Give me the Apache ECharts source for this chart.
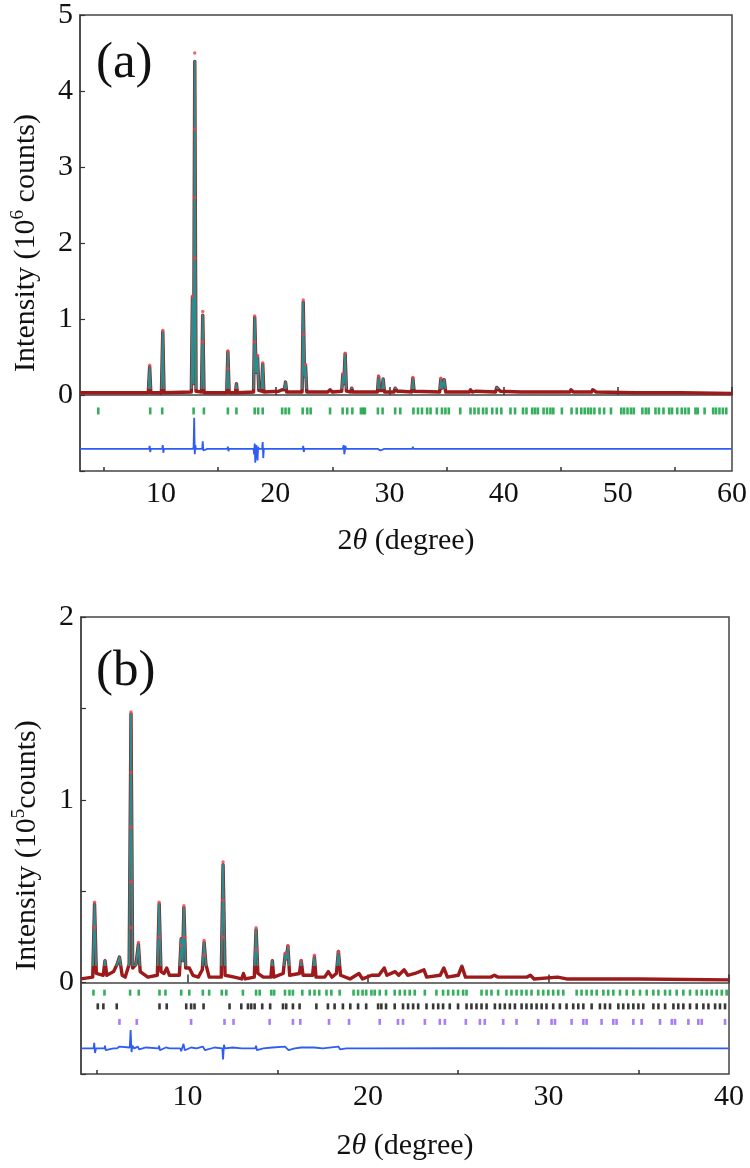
<!DOCTYPE html>
<html>
<head>
<meta charset="utf-8">
<script src="https://cdn.jsdelivr.net/npm/echarts@6/dist/echarts.min.js"></script>
<style>
html,body{margin:0;padding:0;background:#fff;}
#chart{width:750px;height:1168px;}
</style>
</head>
<body>
<div id="chart"></div>
<script>
// ---------- Panel (a) data ----------
const xTicksA = [10, 20, 30, 40, 50, 60];
const xMinorA = [5, 15, 25, 35, 45, 55];
const yTicksA = [0, 1, 2, 3, 4, 5];
// observed / calculated profile (2theta, 10^6 counts)
const profileA = [[2.9,0.03],[8.88,0.03],[9.0,0.37],[9.1,0.03],[10.03,0.03],[10.15,0.83],[10.26,0.03],[12.65,0.04],[12.75,1.29],[12.85,0.15],[12.95,4.39],[13.06,0.05],[13.54,0.04],[13.65,1.05],[13.76,0.03],[15.75,0.03],[15.85,0.57],[15.96,0.03],[16.52,0.03],[16.6,0.15],[16.68,0.03],[18.1,0.04],[18.2,1.02],[18.32,0.3],[18.45,0.5],[18.56,0.06],[18.8,0.05],[18.9,0.41],[19.0,0.04],[20.3,0.05],[20.6,0.07],[20.8,0.07],[20.9,0.17],[21.0,0.04],[22.35,0.04],[22.45,1.22],[22.56,0.25],[22.65,0.39],[22.76,0.04],[24.6,0.04],[24.8,0.07],[25.0,0.04],[25.82,0.05],[25.92,0.27],[26.0,0.15],[26.12,0.54],[26.23,0.05],[26.6,0.04],[26.7,0.09],[26.8,0.04],[27.6,0.04],[27.7,0.06],[27.85,0.04],[28.95,0.04],[29.05,0.24],[29.15,0.06],[29.35,0.06],[29.45,0.21],[29.56,0.04],[30.4,0.04],[30.5,0.09],[30.7,0.05],[31.0,0.05],[31.95,0.04],[32.05,0.22],[32.16,0.05],[34.4,0.04],[34.5,0.21],[34.62,0.09],[34.8,0.2],[34.92,0.04],[37.0,0.04],[37.1,0.07],[37.25,0.04],[37.6,0.05],[39.3,0.04],[39.4,0.1],[39.7,0.05],[41.5,0.04],[41.6,0.06],[41.8,0.04],[42.0,0.04],[42.1,0.06],[42.3,0.04],[43.95,0.04],[44.05,0.06],[44.2,0.04],[45.8,0.04],[45.9,0.07],[46.1,0.04],[47.7,0.04],[47.8,0.07],[48.1,0.04],[51.5,0.03],[51.6,0.05],[51.75,0.03],[55.3,0.03],[55.4,0.04],[55.5,0.03],[60,0.02]];
// observed points visible on peaks
const obsDotsA = [[9.0,0.39],[10.15,0.85],[12.75,1.3],[12.95,4.5],[12.95,3.5],[12.95,2.6],[12.95,1.8],[13.65,1.1],[13.65,0.7],[15.85,0.58],[15.85,0.35],[18.2,1.04],[18.2,0.7],[18.45,0.52],[18.9,0.42],[22.45,1.25],[22.45,0.8],[22.65,0.4],[26.12,0.55],[25.92,0.28],[29.05,0.25],[32.05,0.23],[34.5,0.22]];
// Bragg reflection positions
const braggA = [4.5,9.05,10.1,12.85,13.75,15.85,16.6,18.2,18.5,18.9,20.6,20.9,21.2,22.4,22.8,23.1,24.8,25.9,26.3,26.75,27.5,27.7,27.85,28.99,29.4,30.5,30.95,32.1,32.5,32.85,33.3,33.6,34.15,34.6,34.9,35.2,36.2,37.1,37.45,37.8,38.2,38.5,39.0,39.4,39.8,40.6,41.0,41.7,42.0,42.5,42.75,43.0,43.5,43.8,44.1,44.35,45.1,45.95,46.4,46.8,47.1,47.4,47.65,47.95,48.4,48.8,49.4,50.3,50.55,50.85,51.15,51.4,52.15,52.45,52.7,53.3,53.6,54.0,54.5,54.75,55.2,55.6,55.9,56.2,56.8,57.0,57.6,58.35,58.6,58.9,59.2,59.5];
// difference curve
const diffA = [[2.9,-0.71],[8.95,-0.71],[9.0,-0.67],[9.05,-0.75],[9.1,-0.71],[9.4,-0.71],[10.1,-0.71],[10.15,-0.66],[10.2,-0.76],[10.25,-0.71],[10.55,-0.71],[12.8,-0.71],[12.85,-0.68],[12.9,-0.3],[12.95,-0.78],[13.0,-0.66],[13.05,-0.71],[13.35,-0.71],[13.6,-0.71],[13.65,-0.61],[13.7,-0.73],[13.75,-0.71],[14.05,-0.71],[15.8,-0.71],[15.85,-0.68],[15.9,-0.74],[15.95,-0.71],[16.25,-0.71],[18.1,-0.71],[18.15,-0.78],[18.2,-0.64],[18.25,-0.89],[18.35,-0.66],[18.45,-0.86],[18.5,-0.68],[18.55,-0.71],[18.85,-0.71],[18.9,-0.62],[18.95,-0.83],[19.0,-0.71],[19.3,-0.71],[20.9,-0.71],[20.95,-0.69],[21.0,-0.71],[21.3,-0.71],[22.4,-0.71],[22.45,-0.67],[22.5,-0.75],[22.55,-0.71],[22.85,-0.71],[25.9,-0.71],[26.0,-0.66],[26.05,-0.78],[26.15,-0.67],[26.2,-0.71],[26.5,-0.71],[29.0,-0.71],[29.1,-0.69],[29.2,-0.73],[29.25,-0.71],[29.55,-0.71],[32.0,-0.71],[32.05,-0.68],[32.1,-0.71],[32.4,-0.71],[34.5,-0.71],[34.55,-0.69],[34.6,-0.71],[34.9,-0.71],[39.4,-0.71],[39.45,-0.69],[39.5,-0.71],[39.8,-0.71],[60,-0.71]];

// ---------- Panel (b) data ----------
const xTicksB = [10, 20, 30, 40];
const xMinorB = [5, 15, 25, 35];
const yTicksB = [0, 1, 2];
const profileB = [[4.1,0.02],[4.75,0.03],[4.85,0.43],[4.95,0.05],[5.33,0.04],[5.43,0.12],[5.53,0.04],[5.9,0.06],[6.1,0.1],[6.23,0.14],[6.38,0.04],[6.55,0.03],[6.77,0.1],[6.87,1.47],[6.96,0.08],[7.15,0.1],[7.28,0.21],[7.38,0.06],[7.8,0.03],[8.33,0.04],[8.43,0.43],[8.53,0.06],[8.7,0.05],[8.85,0.08],[9.0,0.04],[9.55,0.04],[9.65,0.24],[9.73,0.12],[9.8,0.41],[9.9,0.08],[10.1,0.08],[10.3,0.04],[10.6,0.03],[10.82,0.07],[10.92,0.22],[11.02,0.1],[11.2,0.03],[11.87,0.03],[11.97,0.645],[12.08,0.04],[12.6,0.03],[13.0,0.02],[13.1,0.05],[13.2,0.02],[13.7,0.03],[13.8,0.29],[13.9,0.05],[14.2,0.03],[14.62,0.03],[14.7,0.12],[14.78,0.03],[15.3,0.05],[15.42,0.16],[15.48,0.13],[15.56,0.2],[15.66,0.04],[16.2,0.05],[16.3,0.12],[16.4,0.04],[16.93,0.04],[17.03,0.14],[17.12,0.03],[17.6,0.03],[17.8,0.06],[18.0,0.03],[18.25,0.05],[18.36,0.17],[18.48,0.04],[19.0,0.02],[19.5,0.05],[19.7,0.02],[20.2,0.04],[20.6,0.04],[20.9,0.08],[21.05,0.04],[21.5,0.06],[21.7,0.04],[22.0,0.07],[22.2,0.04],[22.6,0.05],[23.1,0.07],[23.25,0.03],[24.0,0.04],[24.2,0.08],[24.4,0.03],[25.0,0.04],[25.2,0.09],[25.4,0.03],[26.8,0.03],[27.0,0.04],[27.2,0.03],[28.8,0.03],[29.0,0.04],[29.2,0.02],[30.5,0.03],[31.0,0.02],[35.0,0.02],[40,0.015]];
const obsDotsB = [[4.85,0.44],[4.85,0.3],[6.87,1.48],[6.87,1.15],[6.87,0.85],[6.87,0.55],[6.87,0.3],[7.28,0.22],[8.43,0.44],[8.43,0.25],[9.8,0.42],[9.8,0.25],[9.65,0.2],[10.92,0.23],[10.92,0.15],[11.97,0.66],[11.97,0.45],[11.97,0.25],[13.8,0.3],[13.8,0.18],[15.56,0.2],[15.42,0.16],[16.3,0.12],[17.03,0.15],[18.36,0.17]];
const braggB1 = [4.79,5.4,6.82,7.3,8.45,8.78,9.65,10.1,10.85,11.2,11.9,12.15,13.07,13.8,14.0,14.64,14.8,15.4,15.65,15.84,16.36,16.77,17.04,17.3,17.7,17.97,18.43,19.2,19.45,19.7,19.9,20.19,20.37,20.65,21.0,21.48,21.76,22.04,22.31,22.59,23.15,23.79,24.16,24.44,24.72,24.99,25.27,25.46,26.29,26.57,26.84,27.21,27.67,27.95,28.23,28.51,28.78,29.06,29.43,29.71,29.99,30.26,30.54,30.82,31.56,31.83,32.11,32.39,32.67,33.04,33.31,33.59,33.96,34.33,34.7,35.07,35.44,35.81,36.09,36.46,36.73,37.1,37.47,37.84,38.21,38.49,38.77,39.04,39.32,39.6,39.87];
const braggB2 = [5.03,5.34,6.08,8.45,8.85,9.93,10.2,10.39,10.89,12.33,12.98,13.35,13.53,13.72,14.14,14.58,15.29,15.47,15.84,16.21,17.14,17.78,18.15,18.61,19.02,19.45,19.9,20.56,20.74,21.0,21.48,21.94,22.22,22.5,22.78,23.24,23.61,23.89,24.16,24.53,24.99,25.46,25.73,26.01,26.29,26.57,27.03,27.31,27.58,27.86,28.14,28.51,28.78,29.06,29.34,29.62,29.89,30.26,30.63,31.0,31.37,31.65,31.93,32.39,32.85,33.13,33.41,33.87,34.14,34.42,34.7,34.98,35.25,35.81,36.09,36.46,36.92,37.19,37.47,37.84,38.21,38.58,38.86,39.23,39.5,39.78];
const braggB3 = [6.23,7.19,10.2,12.05,12.55,14.55,15.84,16.25,17.84,18.95,20.65,21.66,21.94,23.15,23.98,24.26,25.42,26.2,26.47,27.49,28.23,29.43,30.17,30.36,31.28,31.93,32.11,32.94,33.59,33.77,34.7,35.16,36.18,36.83,37.01,37.75,38.3,38.49,39.78];
const diffB = [[4.1,-0.36],[4.8,-0.36],[4.83,-0.33],[4.88,-0.385],[4.93,-0.36],[5.4,-0.36],[5.43,-0.345],[5.47,-0.37],[5.5,-0.36],[5.9,-0.36],[6.0,-0.35],[6.1,-0.36],[6.23,-0.35],[6.3,-0.36],[6.8,-0.355],[6.85,-0.26],[6.9,-0.38],[6.95,-0.345],[7.05,-0.36],[7.25,-0.35],[7.32,-0.365],[7.4,-0.36],[7.7,-0.355],[7.8,-0.36],[8.4,-0.36],[8.43,-0.345],[8.47,-0.37],[8.5,-0.36],[8.8,-0.355],[9.0,-0.36],[9.6,-0.36],[9.65,-0.375],[9.78,-0.335],[9.85,-0.37],[9.9,-0.36],[10.2,-0.355],[10.5,-0.36],[10.85,-0.35],[10.9,-0.34],[10.97,-0.37],[11.05,-0.36],[11.5,-0.355],[11.93,-0.36],[11.97,-0.42],[12.02,-0.34],[12.08,-0.36],[12.5,-0.355],[13.0,-0.36],[13.75,-0.36],[13.8,-0.345],[13.85,-0.37],[13.9,-0.36],[14.2,-0.36],[14.7,-0.355],[15.4,-0.35],[15.5,-0.345],[15.6,-0.37],[15.65,-0.36],[15.95,-0.36],[16.3,-0.355],[17.0,-0.355],[17.5,-0.36],[18.36,-0.35],[18.45,-0.365],[18.5,-0.36],[18.8,-0.36],[20,-0.36],[25,-0.358],[40,-0.36]];

// ---------- styling ----------
const FONT = "'Liberation Serif','Times New Roman',serif";
const AXIS_COLOR = '#444';
const RED_BAND = '#9c1a1a';
const TEAL = '#2a8c8c';
const DOT_RED = '#e8434a';
const GREEN = '#1ea64a';
const BLACK_TICK = '#222';
const PURPLE = '#a070f0';
const BLUE = '#2f5cf5';

function mainX(grid, min, max, ticks, nameGap) {
  return {
    gridIndex: grid, type: 'value', min: min, max: max,
    axisLine: { lineStyle: { color: AXIS_COLOR, width: 1.5 } },
    axisTick: { inside: true, length: 8, customValues: ticks, lineStyle: { color: '#333', width: 1.5 } },
    axisLabel: { customValues: ticks, fontFamily: FONT, fontSize: 30, color: '#111', margin: 8 },
    splitLine: { show: false },
    name: '2{i|θ} (degree)', nameLocation: 'middle', nameGap: nameGap,
    nameTextStyle: { fontFamily: FONT, fontSize: 30, color: '#111', rich: { i: { fontFamily: FONT, fontSize: 30, fontStyle: 'italic', color: '#111' } } }
  };
}
function minorX(grid, min, max, ticks) {
  return {
    gridIndex: grid, type: 'value', min: min, max: max, position: 'bottom',
    axisLine: { show: false },
    axisTick: { inside: true, length: 4, customValues: ticks, lineStyle: { color: '#333', width: 1.5 } },
    axisLabel: { show: false }, splitLine: { show: false }
  };
}
function mainY(grid, min, max, interval, labels, name) {
  return {
    gridIndex: grid, type: 'value', min: min, max: max, interval: interval,
    axisLine: { show: true, lineStyle: { color: AXIS_COLOR, width: 1.5 } },
    axisTick: { show: true, inside: true, length: 5, lineStyle: { color: '#333', width: 1.2 } },
    axisLabel: { customValues: labels, fontFamily: FONT, fontSize: 30, color: '#111', margin: 7 },
    splitLine: { show: false },
    name: name, nameLocation: 'middle', nameGap: 37,
    nameTextStyle: { fontFamily: FONT, fontSize: 30, color: '#111', lineHeight: 34,
      rich: { s: { fontFamily: FONT, fontSize: 19, color: '#111', verticalAlign: 'top', lineHeight: 34 } } }
  };
}
function band(data, xi, yi) {
  return { type: 'line', xAxisIndex: xi, yAxisIndex: yi, data: data, showSymbol: false, silent: true,
    lineStyle: { color: RED_BAND, width: 3.4, join: 'round' }, z: 2, animation: false };
}
function calc(data, xi, yi) {
  return { type: 'line', xAxisIndex: xi, yAxisIndex: yi, data: data, showSymbol: false, silent: true,
    lineStyle: { width: 2, join: 'round' }, z: 3, animation: false };
}
function dots(data, xi, yi) {
  return { type: 'scatter', xAxisIndex: xi, yAxisIndex: yi, data: data, symbol: 'circle', symbolSize: 3.5,
    itemStyle: { color: DOT_RED }, z: 4, silent: true, animation: false };
}
function bragg(pos, level, color, xi, yi, h) {
  return { type: 'scatter', xAxisIndex: xi, yAxisIndex: yi, data: pos.map(p => [p, level]),
    symbol: 'rect', symbolSize: [2.6, h], itemStyle: { color: color, opacity: 0.9 }, z: 2, silent: true, animation: false };
}
function diff(data, xi, yi) {
  return { type: 'line', xAxisIndex: xi, yAxisIndex: yi, data: data, showSymbol: false, silent: true,
    lineStyle: { color: BLUE, width: 1.8 }, z: 2, animation: false };
}

const chart = echarts.init(document.getElementById('chart'), null, { renderer: 'canvas' });
chart.setOption({
  backgroundColor: '#fff',
  animation: false,
  grid: [
    { left: 80, top: 12, width: 654, height: 459, show: true, borderColor: AXIS_COLOR, borderWidth: 1.5 },
    { left: 81, top: 617, width: 648, height: 457, show: true, borderColor: AXIS_COLOR, borderWidth: 1.5 }
  ],
  xAxis: [
    mainX(0, 2.9, 60, xTicksA, 55),
    minorX(0, 2.9, 60, xMinorA),
    mainX(1, 4.1, 40, xTicksB, 57),
    minorX(1, 4.1, 40, xMinorB)
  ],
  yAxis: [
    mainY(0, -1, 5, 1, yTicksA, 'Intensity (10{s|6} counts)'),
    mainY(1, -0.5, 2, 0.5, yTicksB, 'Intensity (10{s|5}counts)')
  ],
  visualMap: [
    { type: 'piecewise', show: false, seriesIndex: 1, dimension: 1,
      pieces: [{ gte: -1, lt: 0.085, color: 'rgba(42,140,140,0)' }, { gte: 0.085, lte: 5, color: TEAL }] },
    { type: 'piecewise', show: false, seriesIndex: 6, dimension: 1,
      pieces: [{ gte: -0.5, lt: 0.09, color: 'rgba(42,140,140,0)' }, { gte: 0.09, lte: 2, color: TEAL }] }
  ],
  series: [
    band(profileA, 0, 0),
    calc(profileA, 0, 0),
    dots(obsDotsA, 0, 0),
    bragg(braggA, -0.21, GREEN, 0, 0, 7),
    diff(diffA, 0, 0),
    band(profileB, 2, 1),
    calc(profileB, 2, 1),
    dots(obsDotsB, 2, 1),
    bragg(braggB1, -0.055, GREEN, 2, 1, 6),
    bragg(braggB2, -0.13, BLACK_TICK, 2, 1, 6),
    bragg(braggB3, -0.215, PURPLE, 2, 1, 6),
    diff(diffB, 2, 1)
  ],
  graphic: [
    { type: 'text', left: 96, top: 38, style: { text: '(a)', font: "51px 'Liberation Serif', serif", fill: '#111' } },
    { type: 'text', left: 96, top: 646, style: { text: '(b)', font: "51px 'Liberation Serif', serif", fill: '#111' } }
  ]
});
</script>
</body>
</html>
